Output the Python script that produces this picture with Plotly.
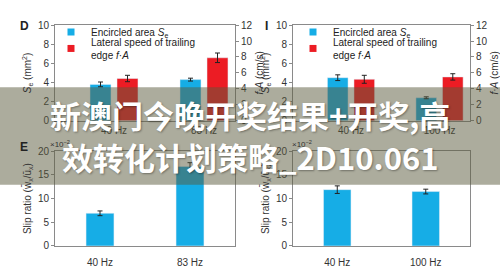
import plotly.graph_objects as go

# ---- data ----
freqs_D = ["40 Hz", "83 Hz"]
se_D = [3.8, 4.3]
se_D_err = [0.25, 0.15]
fa_D = [5.3, 7.9]
fa_D_err = [0.4, 0.6]

freqs_I = ["40 Hz", "100 Hz"]
se_I = [4.5, 2.4]
se_I_err = [0.3, 0.1]
fa_I = [5.2, 5.5]
fa_I_err = [0.5, 0.4]

freqs_E = ["40 Hz", "83 Hz"]
slip_E = [6.9, 16.8]
slip_E_err = [0.5, 0.8]

freqs_F = ["40 Hz", "100 Hz"]
slip_F = [11.9, 11.5]
slip_F_err = [0.8, 0.5]

se_ticks = [0, 2, 4, 6, 8, 10]
fa_ticks = [0, 2, 4, 6, 8, 10, 12]
slip_ticks = [0, 5, 10, 15, 20]

BLUE = "rgb(22,173,230)"
RED = "rgb(236,28,36)"
AX = "#8a8a8a"
TXT = "#333333"
FONT = "Liberation Sans, Arial, sans-serif"

W, H = 500, 273
def px(x):
    return x / W
def py(y):
    return 1 - y / H

fig = go.Figure()

def err(vals):
    return dict(type="data", array=vals, color="#222", thickness=1, width=2.5)

bw = 0.233
# Panel D
fig.add_trace(go.Bar(x=freqs_D, y=se_D, error_y=err(se_D_err), marker_color=BLUE,
                     width=bw, offset=-0.267, xaxis="x", yaxis="y", showlegend=False))
fig.add_trace(go.Bar(x=freqs_D, y=fa_D, error_y=err(fa_D_err), marker_color=RED,
                     width=bw, offset=0.033, xaxis="x", yaxis="y2", showlegend=False))
# Panel I
fig.add_trace(go.Bar(x=freqs_I, y=se_I, error_y=err(se_I_err), marker_color=BLUE,
                     width=bw, offset=-0.267, xaxis="x2", yaxis="y3", showlegend=False))
fig.add_trace(go.Bar(x=freqs_I, y=fa_I, error_y=err(fa_I_err), marker_color=RED,
                     width=bw, offset=0.033, xaxis="x2", yaxis="y4", showlegend=False))
# Panel E, F
fig.add_trace(go.Bar(x=freqs_E, y=slip_E, error_y=err(slip_E_err), marker_color=BLUE,
                     width=0.31, xaxis="x3", yaxis="y5", showlegend=False))
fig.add_trace(go.Bar(x=freqs_F, y=slip_F, error_y=err(slip_F_err), marker_color=BLUE,
                     width=0.31, xaxis="x4", yaxis="y6", showlegend=False))

# legend proxies (one legend box per entry so spacing can follow the reference)
leg_blue = "Encircled area <i>S</i><sub>e</sub>"
leg_red = "Lateral speed of trailing<br>edge <i>f</i>·<i>A</i>"
for lb, lr, xa, ya in [("legend", "legend2", "x", "y"), ("legend3", "legend4", "x2", "y3")]:
    fig.add_trace(go.Scatter(x=[None], y=[None], mode="markers", name=leg_blue,
                             marker=dict(symbol="square", size=7, color=BLUE),
                             xaxis=xa, yaxis=ya, legend=lb))
    fig.add_trace(go.Scatter(x=[None], y=[None], mode="markers", name=leg_red,
                             marker=dict(symbol="square", size=7, color=RED),
                             xaxis=xa, yaxis=ya, legend=lr))

tickfont = dict(family=FONT, size=10, color=TXT)
titlefont = dict(family=FONT, size=10, color=TXT)

def xax(dom, rng, anchor, tl=0):
    return dict(domain=dom, range=rng, anchor=anchor, type="category",
                showline=True, linecolor=AX, linewidth=1, mirror=True,
                ticks="outside" if tl else "", ticklen=max(tl, 1), tickcolor="rgba(0,0,0,0)",
                showgrid=False, tickfont=tickfont, fixedrange=True)

def yax(dom, rng, tv, title, side="left", overlay=None, anchor=None, mirror=False, standoff=4):
    d = dict(range=rng, tickvals=tv, side=side, showline=True, linecolor=AX, linewidth=1,
             ticks="outside", ticklen=3, tickcolor=AX, showgrid=False, zeroline=False,
             tickfont=tickfont, title=dict(text=title, font=titlefont, standoff=standoff),
             fixedrange=True, mirror=mirror)
    if overlay:
        d["overlaying"] = overlay
        d["anchor"] = anchor
    else:
        d["domain"] = dom
        d["anchor"] = anchor
    return d

top = [py(120), py(20)]
bot = [py(251), py(152)]
left = [px(55), px(235)]
right = [px(293), px(470)]
top_rng = [-0.656, 1.344]
bot_rng = [-0.5, 1.5]

se_title = "<i>S</i><sub>e</sub> (mm<sup>2</sup>)"
fa_title = "<i>f</i>·<i>A</i> (cm/s)"
slip_title = "Slip ratio (w\u0304<sub>x</sub>/u\u0304<sub>x</sub>)"

legfont = dict(family=FONT, size=10, color="#222")
def leg(x, y):
    return dict(x=px(x), y=py(y), xanchor="left", yanchor="top", bgcolor="rgba(0,0,0,0)",
                font=legfont, itemwidth=30, borderwidth=0)

fig.update_layout(
    width=W, height=H, margin=dict(l=0, r=0, t=0, b=0),
    paper_bgcolor="white", plot_bgcolor="white",
    barmode="overlay", font=dict(family=FONT, color=TXT),
    xaxis=xax(left, top_rng, "y"),
    yaxis=yax(top, [0, 10], se_ticks, se_title, anchor="x"),
    yaxis2=yax(None, [0, 12], fa_ticks, fa_title, side="right", overlay="y", anchor="x"),
    xaxis2=xax(right, top_rng, "y3"),
    yaxis3=yax(top, [0, 10], se_ticks, se_title, anchor="x2"),
    yaxis4=yax(None, [0, 12], fa_ticks, fa_title, side="right", overlay="y3", anchor="x2"),
    xaxis3=xax(left, bot_rng, "y5", tl=7),
    yaxis5=yax(bot, [0, 20], slip_ticks, slip_title, anchor="x3", mirror=True),
    xaxis4=xax(right, bot_rng, "y6", tl=7),
    yaxis6=yax(bot, [0, 20], slip_ticks, slip_title, anchor="x4", mirror=True),
    legend=leg(51, 12),
    legend2=leg(51, 24),
    legend3=leg(293, 12),
    legend4=leg(293, 24),
)

anns = []
for txt, x, y in [("D", 18, 11), ("I", 266, 11), ("E", 18, 147)]:
    anns.append(dict(text="<b>" + txt + "</b>", x=px(x), y=py(y), xref="paper", yref="paper",
                     showarrow=False, font=dict(family=FONT, size=12, color="#222")))
for x in [60, 302]:
    anns.append(dict(text="×10<sup>−2</sup>", x=px(x), y=py(144), xref="paper", yref="paper",
                     xanchor="center", showarrow=False, font=dict(family=FONT, size=8, color=TXT)))

fig.add_shape(type="rect", xref="paper", yref="paper", x0=0, x1=1, y0=py(187), y1=py(85),
              fillcolor="rgba(90,90,60,0.5)", line=dict(width=0), layer="above")

cjk = "Noto Sans CJK SC"
anns.append(dict(text="<b>新澳门今晚开奖结果+开奖,高</b>", x=0.5, y=py(114), xref="paper", yref="paper",
                 showarrow=False, font=dict(family=cjk, size=31, color="white",
                                            shadow="1px 1px 2px rgba(0,0,0,0.35)")))
anns.append(dict(text="<b>效转化计划策略_2D10.061</b>", x=0.5, y=py(157), xref="paper", yref="paper",
                 showarrow=False, font=dict(family=cjk, size=31, color="white",
                                            shadow="1px 1px 2px rgba(0,0,0,0.35)")))
fig.update_layout(annotations=anns)

fig.write_html("out.html")
